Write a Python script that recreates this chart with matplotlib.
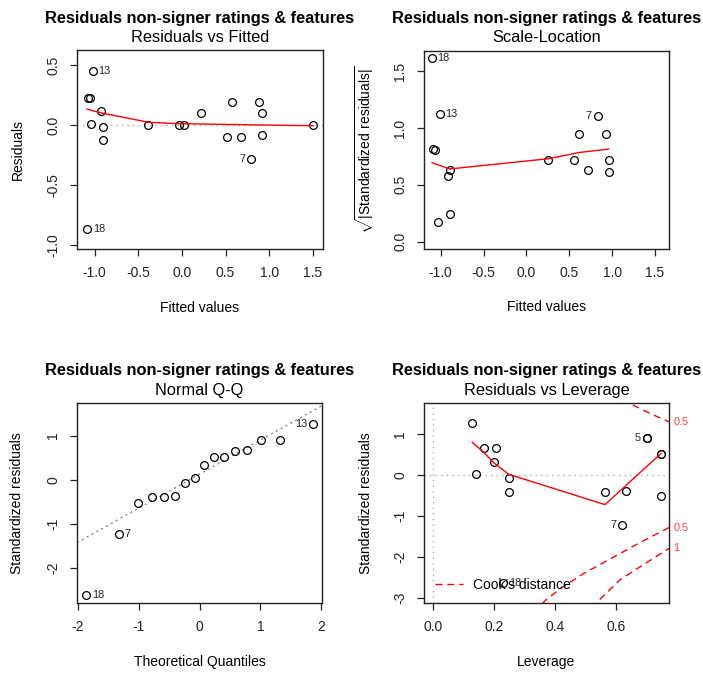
import numpy as np
import matplotlib
matplotlib.use('Agg')
import matplotlib.pyplot as plt

plt.rcParams['font.family'] = ['Liberation Sans', 'DejaVu Sans']
plt.rcParams['mathtext.fontset'] = 'custom'
plt.rcParams['mathtext.rm'] = 'Liberation Sans'
plt.rcParams['axes.unicode_minus'] = False

main_title = 'Residuals non-signer ratings & features'

# Residuals vs Fitted
fit1 = [-1.086, -1.078, -1.052, -1.045, -1.019, -0.927, -0.905, -0.905, -0.385, -0.037,
        0.028, 0.220, 0.514, 0.579, 0.675, 0.790, 0.880, 0.915, 0.920, 1.504]
res1 = [-0.870, 0.228, 0.228, 0.014, 0.453, 0.117, -0.017, -0.125, 0.000, 0.000,
        0.000, 0.103, -0.094, 0.190, -0.094, -0.283, 0.190, -0.083, 0.103, 0.000]
smooth1_x = [-1.086, -1.019, -0.905, -0.385, -0.037, 0.220, 0.579, 0.915, 1.504]
smooth1_y = [0.135, 0.120, 0.100, 0.025, 0.013, 0.010, 0.006, 0.002, -0.004]
lab1 = {4: ('13', 'r'), 0: ('18', 'r'), 15: ('7', 'l')}

# Scale-Location
fit2 = [-1.101, -1.086, -1.062, -1.035, -1.012, -0.918, -0.895, -0.895, 0.254, 0.550,
        0.616, 0.713, 0.830, 0.924, 0.960, 0.960]
sl2 = [1.618, 0.820, 0.803, 0.171, 1.124, 0.576, 0.629, 0.247, 0.718, 0.718,
       0.950, 0.629, 1.103, 0.950, 0.718, 0.612]
smooth2_x = [-1.101, -0.895, 0.254, 0.550, 0.616, 0.960]
smooth2_y = [0.695, 0.640, 0.730, 0.775, 0.785, 0.815]
lab2 = {0: ('18', 'r'), 4: ('13', 'r'), 12: ('7', 'l')}

# Normal Q-Q
theo = [-1.86, -1.32, -1.01, -0.78, -0.58, -0.40, -0.24, -0.08, 0.08, 0.24,
        0.40, 0.58, 0.78, 1.01, 1.32, 1.86]
std3 = [-2.63, -1.23, -0.52, -0.39, -0.39, -0.37, -0.07, 0.04, 0.33, 0.52,
        0.52, 0.64, 0.67, 0.89, 0.89, 1.26]
qq_intercept = 0.125
qq_slope = 0.775
lab3 = {0: ('18', 'r'), 1: ('7', 'r'), 15: ('13', 'l')}

# Residuals vs Leverage
lev = [0.127, 0.140, 0.166, 0.205, 0.198, 0.247, 0.247, 0.229, 0.563, 0.632,
       0.620, 0.700, 0.700, 0.747, 0.747, 0.747]
std4 = [1.26, 0.03, 0.65, 0.67, 0.32, -0.06, -0.40, -2.62, -0.40, -0.38,
        -1.22, 0.90, 0.90, 0.52, 0.52, -0.52]
smooth4_x = [0.127, 0.166, 0.198, 0.247, 0.563, 0.747]
smooth4_y = [0.80, 0.55, 0.30, 0.02, -0.72, 0.53]
lab4 = {7: ('18', 'r'), 10: ('7', 'l'), 11: ('5', 'l')}
cook05_lo_x = [0.330, 0.367, 0.416, 0.493, 0.591, 0.679, 0.773]
cook05_lo_y = [-3.35, -3.06, -2.77, -2.40, -2.00, -1.64, -1.28]
cook1_lo_x = [0.520, 0.542, 0.613, 0.690, 0.773]
cook1_lo_y = [-3.25, -3.06, -2.55, -2.18, -1.79]
cook05_hi_x = [0.620, 0.646, 0.709, 0.773]
cook05_hi_y = [1.85, 1.74, 1.51, 1.30]

W, H = 703, 673
fig = plt.figure(figsize=(W / 100, H / 100), dpi=100)


def make_ax(l, r, t, b):
    ax = fig.add_axes([l / W, 1 - b / H, (r - l) / W, (b - t) / H])
    for s in ax.spines.values():
        s.set_linewidth(1.0)
        s.set_color('#222222')
    ax.tick_params(length=5, width=0.9, pad=7, labelsize=10, colors='#222222')
    ax.tick_params(axis='y', labelrotation=90)
    return ax


def titles(cx, y1, y2, sub):
    fig.text(cx / W, 1 - y1 / H, main_title, ha='center', va='center',
             fontsize=11.8, fontweight='bold')
    fig.text(cx / W, 1 - y2 / H, sub, ha='center', va='center', fontsize=11.8)


def pts(ax, x, y):
    ax.plot(x, y, 'o', ms=5.6, mfc='none', mec='black', mew=0.9, ls='none')


def labels(ax, x, y, lab):
    for i, (txt, side) in lab.items():
        dx = 4 if side == 'r' else -4
        ax.annotate(txt, (x[i], y[i]), xytext=(dx, 0), textcoords='offset points',
                    ha='left' if side == 'r' else 'right', va='center', fontsize=7.8,
                    color='#222222')


def axlabels(ax, xl, yl, xly, ylx):
    ax.set_xlabel(xl, fontsize=10)
    ax.set_ylabel(yl, fontsize=10)
    ax.xaxis.set_label_coords(0.5, xly)
    ax.yaxis.set_label_coords(ylx, 0.5)


dot = (0, (1, 3))

# panel 1
ax1 = make_ax(77, 323, 50, 249)
ax1.axhline(0, color='#aaaaaa', ls=dot, lw=1)
pts(ax1, fit1, res1)
ax1.plot(smooth1_x, smooth1_y, color='red', lw=1)
labels(ax1, fit1, res1, lab1)
ax1.set_xlim(-1.203, 1.618)
ax1.set_ylim(-1.033, 0.628)
ax1.set_xticks([-1.0, -0.5, 0.0, 0.5, 1.0, 1.5])
ax1.set_xticklabels(['-1.0', '-0.5', '0.0', '0.5', '1.0', '1.5'])
ax1.set_yticks([-1.0, -0.5, 0.0, 0.5])
ax1.set_yticklabels(['-1.0', '-0.5', '0.0', '0.5'], va='center')
titles(200, 19, 38, 'Residuals vs Fitted')
axlabels(ax1, 'Fitted values', 'Residuals', -0.26, -0.21)

# panel 2
ax2 = make_ax(424, 669, 51, 249)
pts(ax2, fit2, sl2)
ax2.plot(smooth2_x, smooth2_y, color='red', lw=1)
labels(ax2, fit2, sl2, lab2)
ax2.set_xlim(-1.195, 1.664)
ax2.set_ylim(-0.065, 1.679)
ax2.set_xticks([-1.0, -0.5, 0.0, 0.5, 1.0, 1.5])
ax2.set_xticklabels(['-1.0', '-0.5', '0.0', '0.5', '1.0', '1.5'])
ax2.set_yticks([0.0, 0.5, 1.0, 1.5])
ax2.set_yticklabels(['0.0', '0.5', '1.0', '1.5'], va='center')
titles(546.5, 19, 38, 'Scale-Location')
axlabels(ax2, 'Fitted values', r'$\sqrt{|\mathrm{Standardized\ residuals}|}$', -0.26, -0.196)

# panel 3
ax3 = make_ax(77, 322, 403, 603)
ax3.axline((0, qq_intercept), slope=qq_slope, color='#888888', ls=(0, (1.5, 2.5)), lw=1)
pts(ax3, theo, std3)
labels(ax3, theo, std3, lab3)
ax3.set_xlim(-2.01, 2.01)
ax3.set_ylim(-2.803, 1.742)
ax3.set_xticks([-2, -1, 0, 1, 2])
ax3.set_yticks([-2, -1, 0, 1])
ax3.set_yticklabels(['-2', '-1', '0', '1'], va='center')
titles(199.5, 371, 390, 'Normal Q-Q')
axlabels(ax3, 'Theoretical Quantiles', 'Standardized residuals', -0.26, -0.216)

# panel 4
ax4 = make_ax(424, 669, 403, 603)
ax4.axhline(0, color='#aaaaaa', ls=dot, lw=1)
ax4.axvline(0, color='#aaaaaa', ls=dot, lw=1)
pts(ax4, lev, std4)
ax4.plot(smooth4_x, smooth4_y, color='red', lw=1)
dash = (0, (5, 3.5))
ck, = ax4.plot(cook05_lo_x, cook05_lo_y, color='red', ls=dash, lw=1)
ax4.plot(cook1_lo_x, cook1_lo_y, color='red', ls=dash, lw=1)
ax4.plot(cook05_hi_x, cook05_hi_y, color='red', ls=dash, lw=1)
labels(ax4, lev, std4, lab4)
for txt, yv in [('0.5', cook05_hi_y[-1]), ('0.5', cook05_lo_y[-1]), ('1', cook1_lo_y[-1])]:
    ax4.annotate(txt, (1, yv), xycoords=ax4.get_yaxis_transform(), xytext=(3, 0),
                 textcoords='offset points', ha='left', va='center', fontsize=7.8,
                 color='#ff3a3a', annotation_clip=False)
ax4.set_xlim(-0.031, 0.773)
ax4.set_ylim(-3.12, 1.759)
ax4.set_xticks([0.0, 0.2, 0.4, 0.6])
ax4.set_xticklabels(['0.0', '0.2', '0.4', '0.6'])
ax4.set_yticks([-3, -2, -1, 0, 1])
ax4.set_yticklabels(['-3', '-2', '-1', '0', '1'], va='center')
ax4.legend([ck], ["Cook's distance"], loc='lower left', frameon=False, fontsize=10,
           handlelength=2.0, borderaxespad=0.4, handletextpad=0.7)
titles(546.5, 371, 390, 'Residuals vs Leverage')
axlabels(ax4, 'Leverage', 'Standardized residuals', -0.26, -0.208)

fig.savefig('out.png', dpi=100)
